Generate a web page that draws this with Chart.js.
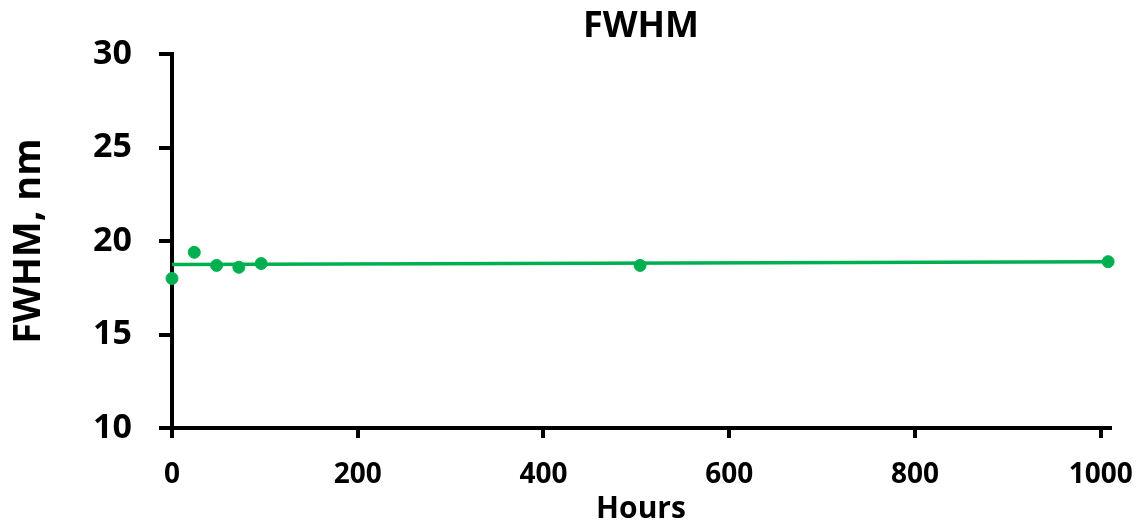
<!DOCTYPE html>
<html>
<head>
<meta charset="utf-8">
<script src="https://cdn.jsdelivr.net/npm/chart.js@4"></script>
<style>
  html, body { margin: 0; padding: 0; background: #fff; }
  #wrap { width: 1138px; height: 524px; }
</style>
</head>
<body>
<div id="wrap"><canvas id="graph" width="1138" height="524"></canvas></div>
<script>
var hours = [0, 24, 48, 72, 96, 504, 1008];
var fwhm = [18.0, 19.4, 18.7, 18.6, 18.8, 18.7, 18.9];

// trendline ends
var trendX = [0, 1008];
var trendY = [18.75, 18.9];

var xTicks = [0, 200, 400, 600, 800, 1000];
var yTicks = [10, 15, 20, 25, 30];

var green = 'rgb(0, 176, 80)';
var fontFamily = '"Open Sans", "Liberation Sans", sans-serif';

var ctx = document.getElementById('graph').getContext('2d');

var points = hours.map(function (h, i) { return { x: h, y: fwhm[i] }; });
var trend = trendX.map(function (h, i) { return { x: h, y: trendY[i] }; });

function fixedTicks(list) {
  return function (axis) {
    axis.ticks = list.map(function (v) { return { value: v }; });
  };
}

new Chart(ctx, {
  type: 'scatter',
  data: {
    datasets: [{
      label: 'FWHM',
      data: points,
      backgroundColor: green,
      borderColor: green,
      pointRadius: 6,
      pointHoverRadius: 6,
      clip: false
    }, {
      label: 'Trend',
      type: 'line',
      data: trend,
      borderColor: green,
      borderWidth: 3.5,
      pointRadius: 0,
      fill: false,
      tension: 0
    }]
  },
  options: {
    responsive: false,
    animation: false,
    layout: { padding: 0 },
    plugins: {
      legend: { display: false },
      tooltip: { enabled: false },
      title: {
        display: true,
        fullSize: false,
        text: 'FWHM',
        color: '#000',
        font: { family: fontFamily, size: 36, weight: 'bold' },
        padding: { top: 5, bottom: 6 }
      }
    },
    scales: {
      x: {
        type: 'linear',
        min: 0,
        max: 1010,
        afterBuildTicks: fixedTicks(xTicks),
        afterFit: function (s) { s.height = 96; s.paddingRight = 28; },
        border: { color: '#000', width: 4 },
        grid: { drawOnChartArea: false, drawTicks: true, tickLength: 10, color: '#000', lineWidth: 4 },
        ticks: {
          color: '#000',
          padding: 20,
          callback: function (v) { return String(v); },
          font: { family: fontFamily, size: 28, weight: 'bold' }
        },
        title: {
          display: true,
          text: 'Hours',
          color: '#000',
          padding: { top: 0, bottom: -3 },
          font: { family: fontFamily, size: 30, weight: 'bold' }
        }
      },
      y: {
        min: 10,
        max: 30,
        afterBuildTicks: fixedTicks(yTicks),
        afterFit: function (s) { s.width = 172; },
        border: { color: '#000', width: 4 },
        grid: { drawOnChartArea: false, drawTicks: true, tickLength: 13, color: '#000', lineWidth: 4 },
        ticks: {
          color: '#000',
          padding: 27,
          callback: function (v) { return String(v); },
          font: { family: fontFamily, size: 34, weight: 'bold' }
        },
        title: {
          display: true,
          text: 'FWHM, nm',
          color: '#000',
          padding: { top: 6, bottom: 0 },
          font: { family: fontFamily, size: 38, weight: 'bold' }
        }
      }
    }
  }
});
</script>
</body>
</html>
